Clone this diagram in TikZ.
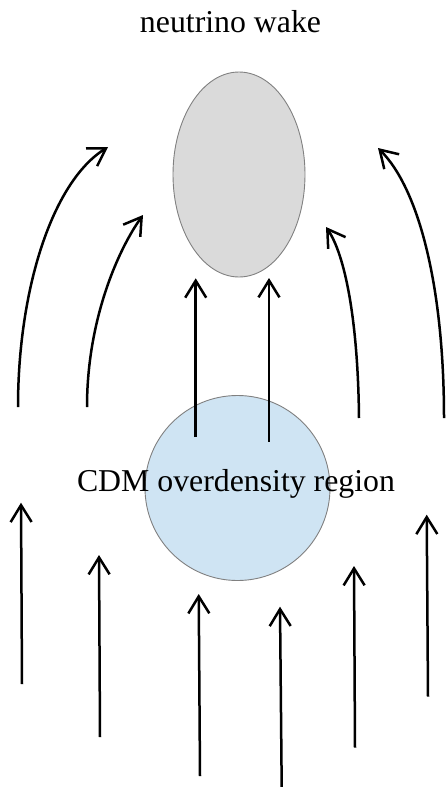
\documentclass[tikz,border=0pt]{standalone}
\usepackage{fontspec}
\setmainfont{Liberation Serif}
\usetikzlibrary{arrows.meta,shapes.geometric}
\definecolor{wakegray}{RGB}{218,218,218}
\definecolor{cdmblue}{RGB}{207,228,243}
\definecolor{edgegray}{RGB}{128,128,128}
\begin{document}
\begin{tikzpicture}[x=1pt,y=-1pt,
  flow/.style={line width=2.5pt, -{Straight Barb[length=17pt,width=21pt]}},
  lbl/.style={font=\fontsize{31.8}{38}\selectfont, inner sep=0pt, anchor=base},
  blob/.style={draw=edgegray, line width=0.9pt, inner sep=0pt}]
\useasboundingbox (0,0) rectangle (446,787);
% shapes
\node[blob, ellipse, fill=wakegray, minimum width=132pt, minimum height=205pt] (wake) at (239,174.5) {};
\node[blob, circle, fill=cdmblue, minimum size=185pt] (cdm) at (237.5,488) {};
% coordinates
\coordinate (a1s) at (22,684);     \coordinate (a1e) at (21,502.7);
\coordinate (a2s) at (100,737);    \coordinate (a2e) at (99,555);
\coordinate (a3s) at (200,776);    \coordinate (a3e) at (198.7,594);
\coordinate (a4s) at (281.7,787);  \coordinate (a4e) at (280,606.7);
\coordinate (a5s) at (355,747.7);  \coordinate (a5e) at (354,566);
\coordinate (a6s) at (428,696.7);  \coordinate (a6e) at (426.7,514.7);
\coordinate (a7s) at (195.7,437);  \coordinate (a7e) at (195.7,278.3);
\coordinate (a8s) at (269,441.7);  \coordinate (a8e) at (269,278);
\coordinate (c1s) at (18,407);     \coordinate (c1e) at (108,147);
\coordinate (c2s) at (87,407);     \coordinate (c2e) at (143,215);
\coordinate (c3s) at (359,418);    \coordinate (c3e) at (326,227);
\coordinate (c4s) at (444,418);    \coordinate (c4e) at (378,148);
% straight flows
\draw[flow] (a1s) -- (a1e);
\draw[flow] (a2s) -- (a2e);
\draw[flow] (a3s) -- (a3e);
\draw[flow] (a4s) -- (a4e);
\draw[flow] (a5s) -- (a5e);
\draw[flow] (a6s) -- (a6e);
\draw[flow] (a7s) -- (a7e);
\draw[flow] (a8s) -- (a8e);
% curved flows
\draw[flow] (c1s) .. controls (18,290) and (52,182) .. (c1e);
\draw[flow] (c2s) .. controls (87,320) and (118,250) .. (c2e);
\draw[flow] (c3s) .. controls (358,320) and (345,255) .. (c3e);
\draw[flow] (c4s) .. controls (444,290) and (420,190) .. (c4e);
% labels
\node[lbl] (title) at (230.5,32) {neutrino wake};
\node[lbl] (cdmlabel) at (236,491.7) {CDM overdensity region};
\end{tikzpicture}
\end{document}
